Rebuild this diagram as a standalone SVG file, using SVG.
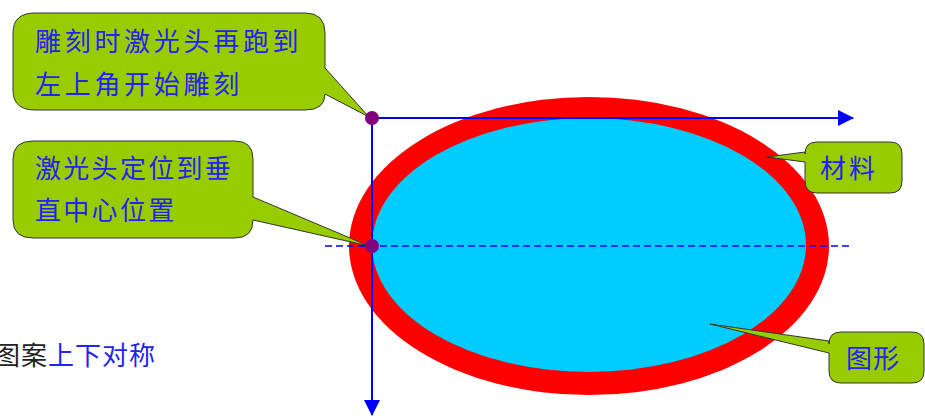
<svg xmlns="http://www.w3.org/2000/svg" width="925" height="416" viewBox="0 0 925 416">
<defs>
<style>
.call{fill:#99CC00;stroke:#333;stroke-width:1}
.t{font-family:"Noto Sans CJK SC","Liberation Serif",sans-serif;font-size:26px;fill:#2323F0}
.k{fill:#222}
.ax{stroke:#0000FF;stroke-width:2;fill:none}
.dot{fill:#800080}
</style>
<marker id="arr" markerWidth="16" markerHeight="16" refX="15" refY="8" orient="auto" markerUnits="userSpaceOnUse">
<path d="M0,0 L16,8 L0,16 Z" fill="#0000FF"/>
</marker>
</defs>
<rect width="925" height="416" fill="#fff"/>
<g id="material">
<ellipse cx="589" cy="246" rx="240" ry="149" fill="#FF0000"/>
</g>
<g id="shape">
<ellipse cx="589" cy="245" rx="217" ry="127" fill="#00CCFF"/>
</g>
<g id="connectors">
<line class="ax" x1="372" y1="118" x2="853" y2="118" marker-end="url(#arr)"/>
<line class="ax" x1="372" y1="118" x2="372" y2="415" marker-end="url(#arr)"/>
<line x1="325" y1="246" x2="850" y2="246" stroke="#0000FF" stroke-width="1.5" stroke-dasharray="7,4"/>
</g>
<g id="callout-start">
<path class="call" d="M35,13 H305 Q325,13 325,33 V68 L369,117 L325,94 Q325,110 305,110 H35 Q13,110 13,90 V33 Q13,13 35,13 Z"/>
<text class="t" x="35" y="51" letter-spacing="3.7">雕刻时激光头再跑到</text>
<text class="t" x="35" y="94" letter-spacing="3.7">左上角开始雕刻</text>
</g>
<g id="callout-center">
<path class="call" d="M33,141 H235 Q253,141 253,159 V197 L369,246 L253,220 Q253,238 235,238 H33 Q13,238 13,220 V159 Q13,141 33,141 Z"/>
<text class="t" x="35" y="178" letter-spacing="2.3">激光头定位到垂</text>
<text class="t" x="35" y="220" letter-spacing="2.3">直中心位置</text>
</g>
<g id="callout-material">
<path class="call" d="M817,142 H890 Q902,142 902,154 V181 Q902,193 890,193 H817 Q805,193 805,181 V162 L767,157 L805,152 V154 Q805,142 817,142 Z"/>
<text class="t" x="820" y="178" letter-spacing="3">材料</text>
</g>
<g id="callout-shape">
<path class="call" d="M841,332 H912 Q924,332 924,344 V371 Q924,383 912,383 H841 Q829,383 829,371 V353 L710,324 L829,341 V344 Q829,332 841,332 Z"/>
<text class="t" x="846" y="368" letter-spacing="1">图形</text>
</g>
<g id="dots">
<circle class="dot" cx="372" cy="118" r="7"/>
<circle class="dot" cx="372" cy="246" r="7"/>
</g>
<g id="note">
<text class="t" x="-6" y="365" letter-spacing="1"><tspan class="k">图案</tspan>上下对称</text>
</g>
</svg>
